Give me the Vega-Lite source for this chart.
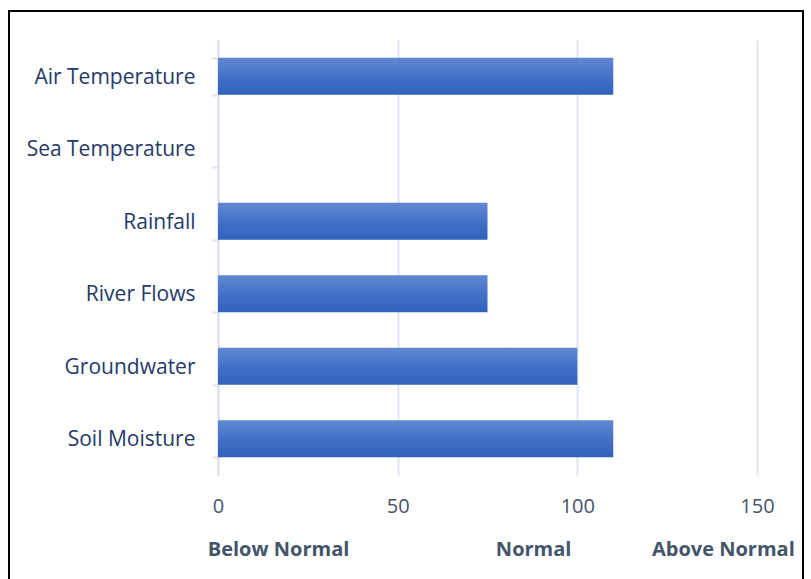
{
  "$schema": "https://vega.github.io/schema/vega-lite/v6.json",
  "width": 794,
  "height": 575,
  "padding": {"left": 9, "top": 11, "right": 8, "bottom": 0},
  "autosize": {"type": "none"},
  "background": "white",
  "config": {
    "view": {"stroke": "black", "strokeWidth": 2},
    "font": "Open Sans"
  },
  "datasets": {
    "indicators": [
      {"indicator": "Air Temperature", "value": 110},
      {"indicator": "Sea Temperature", "value": 0},
      {"indicator": "Rainfall", "value": 75},
      {"indicator": "River Flows", "value": 75},
      {"indicator": "Groundwater", "value": 100},
      {"indicator": "Soil Moisture", "value": 110}
    ],
    "zones": [
      {"zone": "Below Normal", "pos": 16.7},
      {"zone": "Normal", "pos": 87.7},
      {"zone": "Above Normal", "pos": 140.5}
    ]
  },
  "layer": [
    {
      "data": {"name": "indicators"},
      "mark": {
        "type": "bar",
        "color": {
          "gradient": "linear",
          "x1": 0, "y1": 0, "x2": 0, "y2": 1,
          "stops": [
            {"offset": 0, "color": "#6288d1"},
            {"offset": 0.5, "color": "#4471c8"},
            {"offset": 1, "color": "#2f62bd"}
          ]
        }
      },
      "encoding": {
        "y": {
          "field": "indicator",
          "type": "nominal",
          "sort": null,
          "scale": {"range": [29, 464], "paddingInner": 0.49, "paddingOuter": 0.245},
          "axis": {
            "title": null,
            "offset": -209,
            "tickBand": "extent",
            "domainColor": "#dde1e9",
            "domainWidth": 2,
            "tickColor": "#dde1e9",
            "tickWidth": 2,
            "tickSize": 6,
            "labelFontSize": 21,
            "labelColor": "#25396a",
            "labelPadding": 17,
            "labelOffset": 1,
            "grid": false
          }
        },
        "x": {
          "field": "value",
          "type": "quantitative",
          "scale": {"domain": [0, 150], "range": [209, 748], "nice": false, "zero": true},
          "axis": {
            "title": null,
            "orient": "top",
            "grid": true,
            "gridColor": "#e1e5ed",
            "gridWidth": 2,
            "domain": false,
            "ticks": false,
            "labels": false,
            "values": [0, 50, 100, 150]
          }
        }
      }
    },
    {
      "data": {"name": "indicators"},
      "mark": {"type": "point", "opacity": 0},
      "encoding": {
        "x": {
          "field": "value",
          "type": "quantitative",
          "scale": {"domain": [0, 150], "range": [209, 748], "nice": false, "zero": true},
          "axis": {
            "title": null,
            "orient": "bottom",
            "offset": -107,
            "grid": false,
            "domain": false,
            "ticks": false,
            "values": [0, 50, 100, 150],
            "labelFlush": false,
            "labelFontSize": 20,
            "labelColor": "#44546a",
            "labelPadding": 17
          }
        }
      }
    },
    {
      "data": {"name": "zones"},
      "mark": {"type": "point", "opacity": 0},
      "encoding": {
        "x": {
          "field": "pos",
          "type": "quantitative",
          "scale": {"domain": [0, 150], "range": [209, 748], "nice": false, "zero": true},
          "axis": {
            "title": null,
            "orient": "bottom",
            "offset": -47,
            "grid": false,
            "domain": false,
            "ticks": false,
            "values": [16.7, 87.7, 140.5],
            "labelExpr": "datum.value < 50 ? 'Below Normal' : datum.value < 120 ? 'Normal' : 'Above Normal'",
            "labelFlush": false,
            "labelOverlap": false,
            "labelFontSize": 20,
            "labelFontWeight": "bold",
            "labelColor": "#44546a",
            "labelPadding": 0
          }
        }
      }
    }
  ],
  "resolve": {"axis": {"x": "independent"}}
}
